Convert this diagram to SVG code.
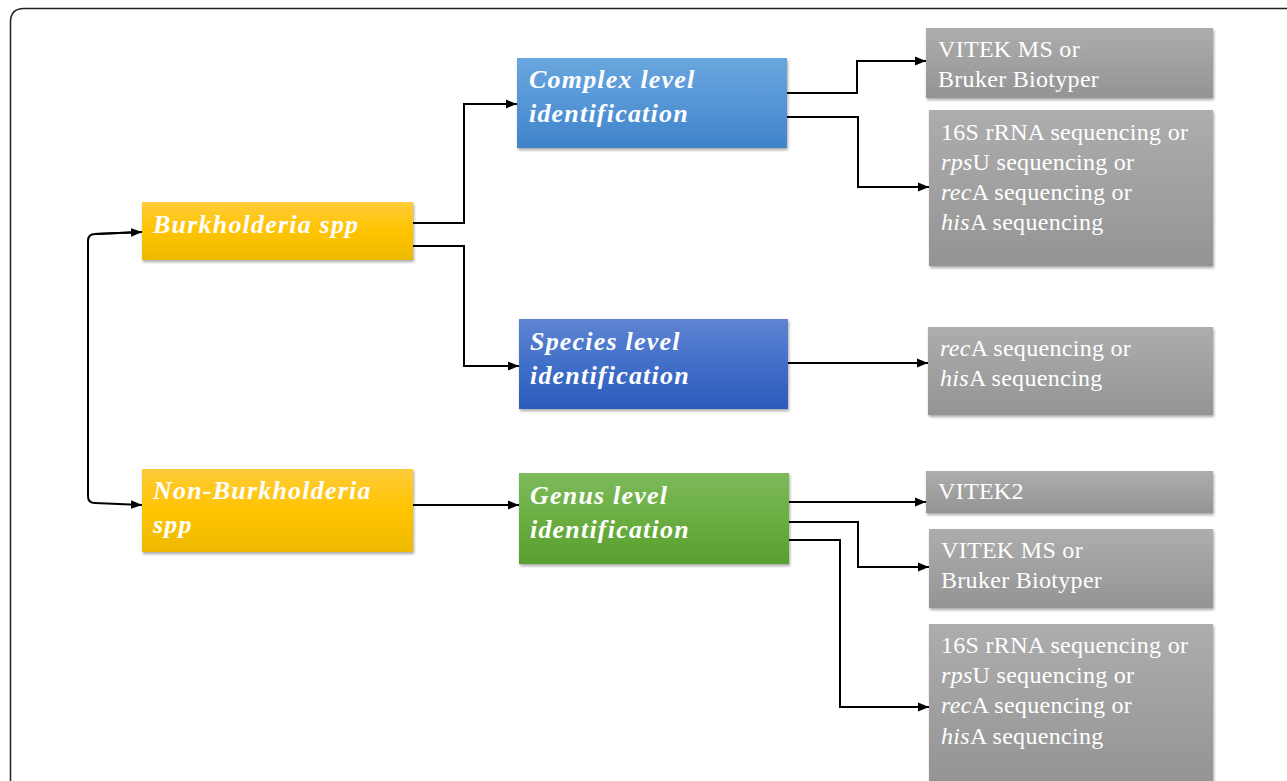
<svg xmlns="http://www.w3.org/2000/svg" width="1287" height="781" viewBox="0 0 1287 781">
<defs>
<linearGradient id="gY" x1="0" y1="0" x2="0" y2="1"><stop offset="0" stop-color="#FFCB3A"/><stop offset="0.5" stop-color="#FFC400"/><stop offset="1" stop-color="#EDB900"/></linearGradient>
<linearGradient id="gB1" x1="0" y1="0" x2="0" y2="1"><stop offset="0" stop-color="#6AA6DE"/><stop offset="0.5" stop-color="#5596D6"/><stop offset="1" stop-color="#3F83CB"/></linearGradient>
<linearGradient id="gB2" x1="0" y1="0" x2="0" y2="1"><stop offset="0" stop-color="#5F84D2"/><stop offset="0.5" stop-color="#416FC8"/><stop offset="1" stop-color="#2D5BBC"/></linearGradient>
<linearGradient id="gG" x1="0" y1="0" x2="0" y2="1"><stop offset="0" stop-color="#7DBA5B"/><stop offset="0.5" stop-color="#6AAE41"/><stop offset="1" stop-color="#5A9E30"/></linearGradient>
<linearGradient id="gGr" x1="0" y1="0" x2="0" y2="1"><stop offset="0" stop-color="#ADADAD"/><stop offset="1" stop-color="#949494"/></linearGradient>
<filter id="sh" x="-5%" y="-10%" width="112%" height="125%"><feDropShadow dx="1" dy="2" stdDeviation="1.5" flood-color="#000" flood-opacity="0.35"/></filter>
<marker id="ah" viewBox="0 0 10 10" refX="10" refY="5" markerWidth="11" markerHeight="11" markerUnits="userSpaceOnUse" orient="auto"><path d="M0,1 L10,5 L0,9 z" fill="#000"/></marker>
<style>
.t{font-family:"Liberation Serif","DejaVu Serif",serif;font-size:26px;font-weight:bold;font-style:italic;fill:#fff;letter-spacing:1.2px}
.g{font-family:"Liberation Serif","DejaVu Serif",serif;font-size:24px;fill:#fff;letter-spacing:0.3px}
.i{font-style:italic}
.c{fill:none;stroke:#000;stroke-width:2;marker-end:url(#ah)}
</style>
</defs>
<rect width="1287" height="781" fill="#fff"/>
<path d="M10.5 781 V22 Q10.5 8.5 24 8.5 H1287" fill="none" stroke="#222" stroke-width="1.5"/>

<g id="connectors">
<path class="c" d="M413 223 H464 V104 H517"/>
<path class="c" d="M413 246 H464 V366 H519"/>
<path class="c" d="M142 232 L95 234 Q88 234 88 241 V496 Q88 503 95 503 L142 505"/>
<path class="c" d="M95 234 L142 232"/>
<path class="c" d="M413 505 H519"/>
<path class="c" d="M787 93 H857 V61 H926"/>
<path class="c" d="M787 117 H858 V187 H929"/>
<path class="c" d="M788 363 H928"/>
<path class="c" d="M789 502 H926"/>
<path class="c" d="M789 522 H858 V567 H929"/>
<path class="c" d="M789 540 H840 V707 H929"/>
</g>

<g id="burkholderia">
<rect x="142" y="202" width="271" height="58" fill="url(#gY)" filter="url(#sh)"/>
<text class="t" x="153" y="233">Burkholderia spp</text>
</g>
<g id="non-burkholderia">
<rect x="142" y="469" width="271" height="83" fill="url(#gY)" filter="url(#sh)"/>
<text class="t" x="153" y="499">Non-Burkholderia</text>
<text class="t" x="153" y="533">spp</text>
</g>
<g id="complex">
<rect x="517" y="58" width="270" height="90" fill="url(#gB1)" filter="url(#sh)"/>
<text class="t" x="529" y="88">Complex level</text>
<text class="t" x="529" y="122">identification</text>
</g>
<g id="species">
<rect x="519" y="319" width="269" height="90" fill="url(#gB2)" filter="url(#sh)"/>
<text class="t" x="530" y="350">Species level</text>
<text class="t" x="530" y="384">identification</text>
</g>
<g id="genus">
<rect x="519" y="473" width="270" height="91" fill="url(#gG)" filter="url(#sh)"/>
<text class="t" x="530" y="504">Genus level</text>
<text class="t" x="530" y="538">identification</text>
</g>

<g id="g1">
<rect x="926" y="28" width="287" height="70" fill="url(#gGr)" filter="url(#sh)"/>
<text class="g" x="938" y="57">VITEK MS or</text>
<text class="g" x="938" y="87">Bruker Biotyper</text>
</g>
<g id="g2">
<rect x="929" y="110" width="284" height="156" fill="url(#gGr)" filter="url(#sh)"/>
<text class="g" x="941" y="140">16S rRNA sequencing or</text>
<text class="g" x="941" y="170"><tspan class="i">rps</tspan>U sequencing or</text>
<text class="g" x="941" y="200"><tspan class="i">rec</tspan>A sequencing or</text>
<text class="g" x="941" y="230"><tspan class="i">his</tspan>A sequencing</text>
</g>
<g id="g3">
<rect x="928" y="327" width="285" height="88" fill="url(#gGr)" filter="url(#sh)"/>
<text class="g" x="940" y="356"><tspan class="i">rec</tspan>A sequencing or</text>
<text class="g" x="940" y="386"><tspan class="i">his</tspan>A sequencing</text>
</g>
<g id="g4">
<rect x="926" y="471" width="287" height="42" fill="url(#gGr)" filter="url(#sh)"/>
<text class="g" x="938" y="499">VITEK2</text>
</g>
<g id="g5">
<rect x="929" y="529" width="284" height="79" fill="url(#gGr)" filter="url(#sh)"/>
<text class="g" x="941" y="558">VITEK MS or</text>
<text class="g" x="941" y="588">Bruker Biotyper</text>
</g>
<g id="g6">
<rect x="929" y="624" width="284" height="160" fill="url(#gGr)" filter="url(#sh)"/>
<text class="g" x="941" y="653">16S rRNA sequencing or</text>
<text class="g" x="941" y="683"><tspan class="i">rps</tspan>U sequencing or</text>
<text class="g" x="941" y="713"><tspan class="i">rec</tspan>A sequencing or</text>
<text class="g" x="941" y="744"><tspan class="i">his</tspan>A sequencing</text>
</g>
</svg>
